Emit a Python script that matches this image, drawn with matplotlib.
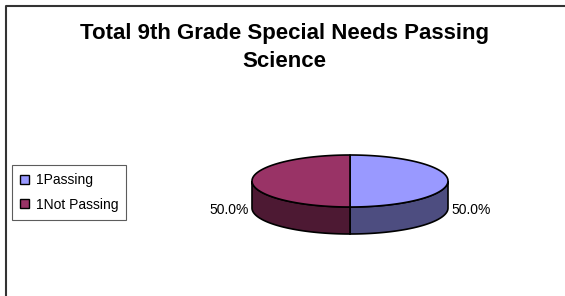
import matplotlib.pyplot as plt
import numpy as np
from matplotlib.patches import Polygon, Patch

plt.rcParams['font.family'] = ['Liberation Sans', 'DejaVu Sans']

title = "Total 9th Grade Special Needs Passing\nScience"
categories = ["1Passing", "1Not Passing"]
values = [50, 50]
top_colors = ["#9999FF", "#993366"]
side_colors = ["#4D4D80", "#4D1933"]

W, H = 565, 296
fig = plt.figure(figsize=(W / 100, H / 100), dpi=100)
ax = fig.add_axes([0, 0, 1, 1])
ax.set_xlim(0, W)
ax.set_ylim(H, 0)
ax.axis("off")

# chart area border (runs off the right and bottom of the image)
ax.plot([5.5, 5.5, W + 5], [H + 5, 6, 6], color="#333333", lw=1.5, solid_capstyle="butt")

# baseline of the last title line
ax.text(284, 67, title, ha="center", va="baseline", fontsize=16,
        fontweight="bold", linespacing=1.45)

# 3d pie geometry (pixels)
cx, cy, a, b, depth = 350, 181, 98, 26, 27

def pt(theta, dy=0):
    # theta clockwise from 12 o'clock, in radians
    return cx + a * np.sin(theta), cy - b * np.cos(theta) + dy

total = sum(values)
fracs = np.array(values) / total
starts = np.concatenate([[0], np.cumsum(fracs)[:-1]]) * 2 * np.pi
ends = np.cumsum(fracs) * 2 * np.pi

# sides first (front half only: theta between 90 and 270 deg)
for s, e, col in zip(starts, ends, side_colors):
    lo, hi = max(s, np.pi / 2), min(e, 3 * np.pi / 2)
    if hi <= lo:
        continue
    th = np.linspace(lo, hi, 80)
    xs, ys = pt(th)
    xb, yb = pt(th[::-1], depth)
    poly = np.column_stack([np.concatenate([xs, xb]), np.concatenate([ys, yb])])
    ax.add_patch(Polygon(poly, closed=True, facecolor=col, edgecolor="black", lw=1.2))

# top faces
for s, e, col in zip(starts, ends, top_colors):
    th = np.linspace(s, e, 120)
    xs, ys = pt(th)
    poly = np.column_stack([np.concatenate([[cx], xs]), np.concatenate([[cy], ys])])
    ax.add_patch(Polygon(poly, closed=True, facecolor=col, edgecolor="black", lw=1.2,
                         joinstyle="round"))

# percentage labels
for s, e, v in zip(starts, ends, values):
    mid = (s + e) / 2
    x = cx + (a + 3) * np.sin(mid)
    y = cy - b * np.cos(mid) + depth + 2
    ax.text(x, y, f"{v / total * 100:.1f}%", ha="left" if np.sin(mid) > 0 else "right",
            va="center", fontsize=10)

handles = [Patch(facecolor=c, edgecolor="black", lw=1.0) for c in top_colors]
leg = ax.legend(handles, categories, loc="upper left",
                bbox_to_anchor=(12 / W, 1 - 165 / H), bbox_transform=fig.transFigure,
                borderaxespad=0, fontsize=10, frameon=True, fancybox=False,
                handlelength=0.6, handleheight=0.6, handletextpad=0.5,
                labelspacing=0.75, borderpad=0.6)
leg.get_frame().set_edgecolor("#333333")
leg.get_frame().set_linewidth(0.8)

fig.savefig("out.png", dpi=100)
